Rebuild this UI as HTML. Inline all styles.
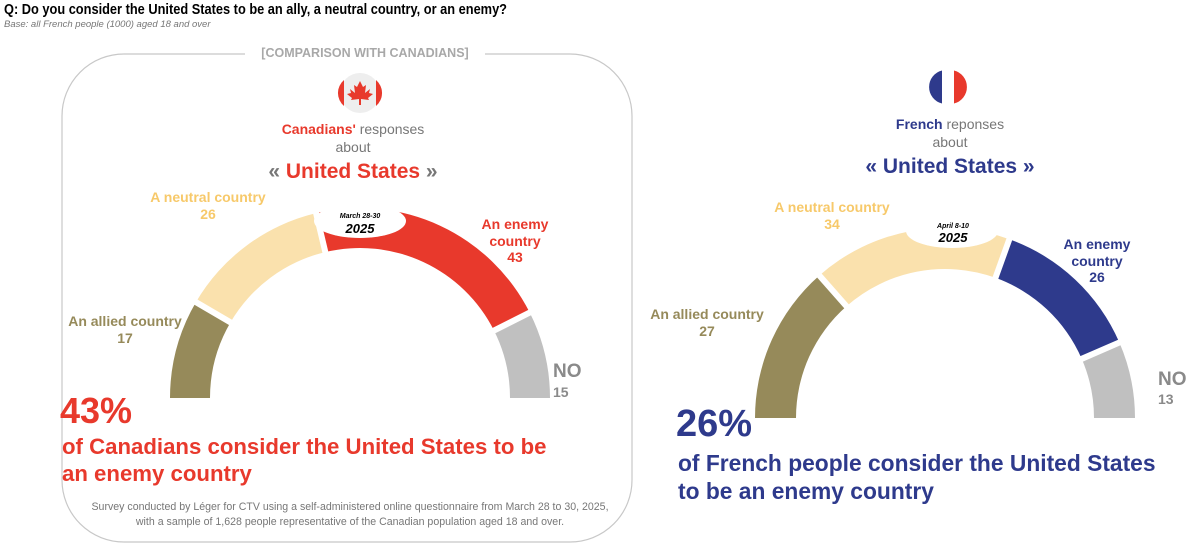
<!DOCTYPE html>
<html><head><meta charset="utf-8"><style>
body{margin:0;background:#fff;width:1200px;height:547px;overflow:hidden;font-family:"Liberation Sans",sans-serif}
svg{position:absolute;left:0;top:0}
</style></head><body>
<svg width="1200" height="547" viewBox="0 0 1200 547" id="s">
<rect x="62" y="54" width="570" height="488" rx="62" fill="none" stroke="#c8c8c8" stroke-width="1.2"/>
<rect x="245" y="44" width="240" height="20" fill="#fff"/>
<text x="4" y="14" font-size="14.5" font-weight="bold" fill="#000" textLength="503" lengthAdjust="spacingAndGlyphs">Q: Do you consider the United States to be an ally, a neutral country, or an enemy?</text>
<text x="4" y="27" font-size="9.5" font-style="italic" fill="#777">Base: all French people (1000) aged 18 and over</text>
<text x="365" y="57" font-size="12.5" font-weight="bold" fill="#a8a8a8" text-anchor="middle">[COMPARISON WITH CANADIANS]</text>
<!-- canada flag -->
<circle cx="360" cy="93" r="20" fill="#eee"/>
<path d="M344 80 A17 17 0 0 0 344 106 Z" fill="#e8392c"/>
<path d="M376 80 A17 17 0 0 1 376 106 Z" fill="#e8392c"/>
<path d="M360 81 L363 87 L366 85 L365 93 L370 89 L369 93 L373 94 L368 98 L369 100 L361 99 L361 105 L359 105 L359 99 L351 100 L352 98 L347 94 L351 93 L350 89 L355 93 L354 85 L357 87 Z" fill="#e8392c"/>
<g font-size="14" text-anchor="middle">
<text x="353" y="134"><tspan fill="#e8392c" font-weight="bold">Canadians'</tspan><tspan fill="#777"> responses</tspan></text>
<text x="353" y="152" fill="#777">about</text>
<text x="353" y="178" font-size="21" font-weight="bold"><tspan fill="#777">« </tspan><tspan fill="#e8392c">United States</tspan><tspan fill="#777"> »</tspan></text>
</g>
<g id="g1"></g><g id="g2"></g>
<g font-weight="bold" text-anchor="middle" font-size="14">
<text x="208" y="202" fill="#f7c96a">A neutral country</text>
<text x="208" y="219" fill="#f7c96a">26</text>
<text x="125" y="326" fill="#968a5a">An allied country</text>
<text x="125" y="343" fill="#968a5a">17</text>
<text x="515" y="229" fill="#e8392c">An enemy</text>
<text x="515" y="246" fill="#e8392c">country</text>
<text x="515" y="262" fill="#e8392c">43</text>
<text x="360" y="218" font-size="7" font-style="italic" fill="#000">March 28-30</text>
<text x="360" y="233" font-size="13" font-style="italic" fill="#000">2025</text>
<text x="832" y="212" fill="#f7c96a">A neutral country</text>
<text x="832" y="229" fill="#f7c96a">34</text>
<text x="707" y="319" fill="#968a5a">An allied country</text>
<text x="707" y="336" fill="#968a5a">27</text>
<text x="1097" y="249" fill="#2e3a8c">An enemy</text>
<text x="1097" y="266" fill="#2e3a8c">country</text>
<text x="1097" y="282" fill="#2e3a8c">26</text>
<text x="953" y="228" font-size="7" font-style="italic" fill="#000">April 8-10</text>
<text x="953" y="242" font-size="13" font-style="italic" fill="#000">2025</text>
</g>
<g font-weight="bold" fill="#8a8a8a">
<text x="553" y="377" font-size="19">NO</text>
<text x="553" y="397" font-size="14">15</text>
<text x="1158" y="385" font-size="19">NO</text>
<text x="1158" y="404" font-size="14">13</text>
</g>
<g font-weight="bold" fill="#e8392c">
<text x="60" y="423" font-size="36">43%</text>
<text x="62" y="454" font-size="22.2">of Canadians consider the United States to be</text>
<text x="62" y="481" font-size="22.2">an enemy country</text>
</g>
<g font-size="10.6" fill="#777" text-anchor="middle">
<text x="350" y="510">Survey conducted by Léger for CTV using a self-administered online questionnaire from March 28 to 30, 2025,</text>
<text x="350" y="525">with a sample of 1,628 people representative of the Canadian population aged 18 and over.</text>
</g>
<!-- france -->
<circle cx="948" cy="87" r="17" fill="#fff"/>
<path d="M942 70.5 A17 17 0 0 0 942 103.5 Z" fill="#2e3a8c"/>
<path d="M954 70.5 A17 17 0 0 1 954 103.5 Z" fill="#e8392c"/>
<g font-size="14" text-anchor="middle">
<text x="950" y="129"><tspan fill="#2e3a8c" font-weight="bold">French</tspan><tspan fill="#777"> reponses</tspan></text>
<text x="950" y="147" fill="#777">about</text>
<text x="950" y="173" font-size="21" font-weight="bold" fill="#2e3a8c">« United States »</text>
</g>
<g font-weight="bold" fill="#2e3a8c">
<text x="676" y="436" font-size="38">26%</text>
<text x="678" y="471" font-size="22.8">of French people consider the United States</text>
<text x="678" y="499" font-size="22.8">to be an enemy country</text>
</g>
</svg>
<script>
function gauge(id,cx,cy,R,r,vals,cols,nx,ny){
  var tot=vals.reduce((a,b)=>a+b,0),c=0,h='';
  function pt(a,rr){return [cx+rr*Math.cos(a),cy-rr*Math.sin(a)];}
  var bounds=[];
  vals.forEach(function(v,i){
    var a0=Math.PI-Math.PI*c/tot;c+=v;var a1=Math.PI-Math.PI*c/tot;
    var p0=pt(a0,R),p1=pt(a1,R),q1=pt(a1,r),q0=pt(a0,r);
    h+='<path d="M'+p0+' A'+R+' '+R+' 0 0 1 '+p1+' L'+q1+' A'+r+' '+r+' 0 0 0 '+q0+'Z" fill="'+cols[i]+'"/>';
    if(i<vals.length-1)bounds.push(a1);
  });
  bounds.forEach(function(a){var p=pt(a,r-5),q=pt(a,R+5);h+='<line x1="'+p[0]+'" y1="'+p[1]+'" x2="'+q[0]+'" y2="'+q[1]+'" stroke="#fff" stroke-width="6"/>';});
  h+='<ellipse cx="'+nx+'" cy="'+ny+'" rx="46" ry="17" fill="#fff"/>';
  document.getElementById(id).innerHTML=h;
}
gauge('g1',360,398,190,150,[17,26,43,15],['#968a5a','#fae1ad','#e8392c','#c0c0c0'],360,221);
gauge('g2',945,418,190,149,[27,34,26,13],['#968a5a','#fae1ad','#2e3a8c','#c0c0c0'],952,231);
</script>
</body></html>
